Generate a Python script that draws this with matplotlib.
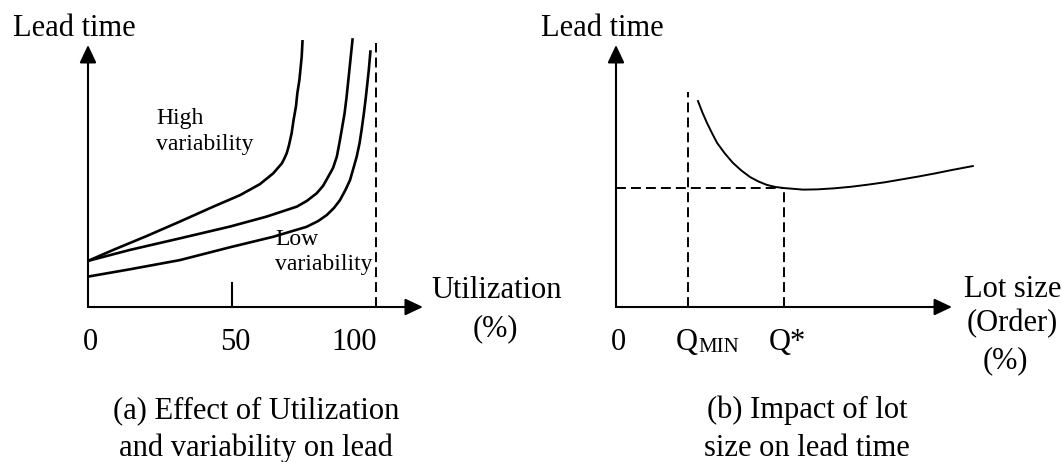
import matplotlib.pyplot as plt

# (a) lead time vs utilization (%), three variability levels
util_high = [0, 8.8, 20.4, 31.9, 43.5, 52.8, 59.7, 64.3, 67.3, 68.1, 69.0, 69.8, 70.7, 71.4, 72.2,
             72.7, 73.4, 74.2, 74.5]
lead_high = [17.6, 21.8, 27.1, 32.6, 38.3, 42.7, 46.9, 51.0, 54.8, 56.5, 58.7, 61.8, 66.3, 71.5, 76.5,
             81.7, 86.6, 95.5, 101.9]

util_mid = [0, 14.6, 31.9, 49.3, 62.0, 72.5, 76.0, 79.4, 81.6, 83.4, 85.1, 86.4, 87.3, 88.1, 89.1,
            89.8, 91.0, 91.9]
lead_mid = [17.6, 21.8, 26.2, 30.7, 34.5, 38.3, 40.5, 43.4, 46.2, 49.7, 53.1, 57.4, 62.6, 67.6, 74.0,
            80.3, 93.0, 102.6]

util_low = [0, 14.6, 31.9, 49.3, 64.3, 75.9, 79.9, 82.9, 85.4, 87.5, 89.4, 91.0, 92.2, 93.3, 94.3,
            95.0, 95.8, 96.5, 97.5, 98.1]
lead_low = [11.6, 14.4, 17.9, 22.8, 26.8, 30.6, 32.8, 35.1, 37.8, 40.8, 44.7, 48.5, 53.1, 57.4, 62.6,
            67.6, 74.0, 80.3, 90.5, 98.0]

util_ticks = [0, 50, 100]
util_tick_labels = ["0", "50", "100"]

# (b) lead time vs lot size
lot = [24.4, 25.7, 27.1, 28.6, 30.1, 32.4, 34.8, 37.3, 39.9, 42.4, 44.9, 47.5, 50, 55.7, 60, 65,
       70, 75, 80, 85, 90, 95, 100, 106.2]
lead_lot = [78.6, 74.3, 70.2, 66.3, 62.6, 58.6, 55.0, 52.1, 49.6, 47.9, 46.6, 45.8, 45.4, 44.8, 44.9,
            45.3, 45.9, 46.7, 47.6, 48.7, 49.8, 51.0, 52.3, 53.8]
q_min, q_min_top = 21.4, 82.1
q_star, lead_star = 50, 45.4

W, H = 1062, 462
plt.rcParams['font.family'] = ['Liberation Serif', 'DejaVu Serif']

fig = plt.figure(figsize=(W / 100, H / 100), dpi=100)


def fx(px):
    return px / W


def fy(py):
    return 1 - py / H


def make_ax(left_px, px_per_unit):
    ax = fig.add_axes([fx(left_px), fy(307), 120 * px_per_unit / W, 105 * 2.62 / H])
    ax.set_xlim(0, 120)
    ax.set_ylim(0, 105)
    ax.axis('off')
    return ax


def axis_arrows(ax, x_tip, y_tip):
    style = "-|>,head_length=0.72,head_width=0.34"
    for tip in [(x_tip, 0), (0, y_tip)]:
        ax.annotate("", xy=tip, xytext=(0, 0),
                    arrowprops=dict(arrowstyle=style, lw=1.5, color='black',
                                    mutation_scale=15, shrinkA=0, shrinkB=0),
                    annotation_clip=False)


dash = dict(color='black', lw=1.4, dashes=(5.1, 2.6), clip_on=False)

# ---- panel (a)
ax1 = make_ax(88, 2.88)
axis_arrows(ax1, 116.3, 100)
for u, l in [(util_high, lead_high), (util_mid, lead_mid), (util_low, lead_low)]:
    ax1.plot(u, l, color='black', lw=1.9, solid_capstyle='butt', solid_joinstyle='round',
             clip_on=False)
ax1.plot([100, 100], [0, 100.8], **dash)
ax1.plot([50, 50], [0, 9.2], color='black', lw=1.5, clip_on=False)

fs = 22
fig.text(fx(13), fy(36), "Lead time", fontsize=fs, va='baseline')
fig.text(fx(90), fy(350), util_tick_labels[0], fontsize=fs, ha='center', va='baseline')
fig.text(fx(235), fy(350), util_tick_labels[1], fontsize=fs, ha='center', va='baseline')
fig.text(fx(377), fy(350), util_tick_labels[2], fontsize=fs, ha='right', va='baseline')
fig.text(fx(497), fy(298), "Utilization", fontsize=fs, ha='center', va='baseline')
fig.text(fx(495), fy(336), "(%)", fontsize=fs, ha='center', va='baseline')
fig.text(fx(156), fy(124), "High", fontsize=17, va='baseline')
fig.text(fx(156), fy(150), "variability", fontsize=17, va='baseline')
fig.text(fx(275), fy(245), "Low", fontsize=17, va='baseline')
fig.text(fx(275), fy(270), "variability", fontsize=17, va='baseline')
fig.text(fx(256), fy(418), "(a) Effect of Utilization", fontsize=fs, ha='center', va='baseline')
fig.text(fx(256), fy(456), "and variability on lead", fontsize=fs, ha='center', va='baseline')

# ---- panel (b)
ax2 = make_ax(616, 3.36)
axis_arrows(ax2, 100, 100)
ax2.plot(lot, lead_lot, color='black', lw=1.4, solid_joinstyle='round', clip_on=False)
ax2.plot([q_min, q_min], [0, q_min_top], **dash)
ax2.plot([q_star, q_star], [0, lead_star], **dash)
ax2.plot([0, q_star], [lead_star, lead_star], **dash)

fig.text(fx(541), fy(36), "Lead time", fontsize=fs, va='baseline')
fig.text(fx(618), fy(350), "0", fontsize=fs, ha='center', va='baseline')
fig.text(fx(676), fy(350), "Q", fontsize=fs, va='baseline')
fig.text(fx(698), fy(352), "MIN", fontsize=15, va='baseline')
fig.text(fx(787), fy(350), "Q*", fontsize=fs, ha='center', va='baseline')
fig.text(fx(1013), fy(297), "Lot size", fontsize=fs, ha='center', va='baseline')
fig.text(fx(1012), fy(331), "(Order)", fontsize=fs, ha='center', va='baseline')
fig.text(fx(1005), fy(368), "(%)", fontsize=fs, ha='center', va='baseline')
fig.text(fx(807), fy(418), "(b) Impact of lot", fontsize=fs, ha='center', va='baseline')
fig.text(fx(807), fy(456), "size on lead time", fontsize=fs, ha='center', va='baseline')

fig.savefig("out.png", dpi=100)
